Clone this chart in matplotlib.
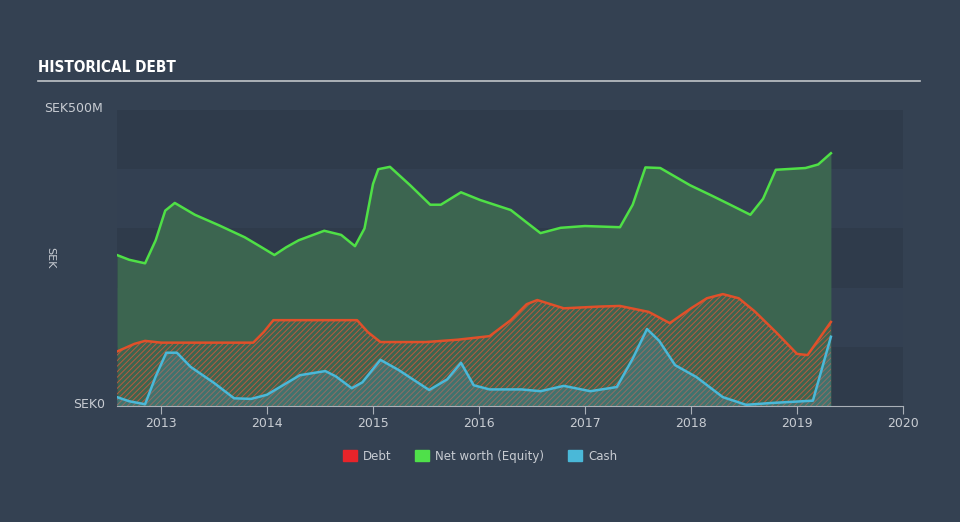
import numpy as np
import matplotlib
matplotlib.use("Agg")
import matplotlib.pyplot as plt
from matplotlib.patches import Patch
from matplotlib.lines import Line2D

# values (SEK millions)
nw_x = [2012.585, 2012.7, 2012.85, 2012.95, 2013.04, 2013.13, 2013.32, 2013.55, 2013.79,
        2013.95, 2014.07, 2014.18, 2014.3, 2014.54, 2014.7, 2014.83, 2014.92, 2015.0,
        2015.05, 2015.16, 2015.35, 2015.54, 2015.64, 2015.83, 2016.01, 2016.3, 2016.45,
        2016.58, 2016.77, 2017.0, 2017.33, 2017.45, 2017.57, 2017.71, 2017.99, 2018.2,
        2018.37, 2018.56, 2018.68, 2018.8, 2019.08, 2019.2, 2019.32]
nw_y = [255, 247, 241, 280, 330, 343, 323, 305, 285,
        268, 255, 268, 280, 296, 289, 270, 300, 375,
        400, 404, 373, 340, 340, 361, 348, 331, 310,
        292, 301, 304, 302, 340, 403, 402, 373, 355,
        340, 323, 350, 399, 402, 408, 427]

debt_x = [2012.585, 2012.75, 2012.85, 2013.0, 2013.5, 2013.87, 2013.97, 2014.06, 2014.5,
          2014.85, 2014.95, 2015.07, 2015.5, 2015.8, 2016.1, 2016.3, 2016.45, 2016.55,
          2016.8, 2017.14, 2017.33, 2017.6, 2017.8, 2018.0, 2018.15, 2018.3, 2018.45,
          2018.6, 2018.8, 2019.0, 2019.1, 2019.32]
debt_y = [92, 105, 110, 107, 107, 107, 125, 145, 145,
          145, 125, 108, 108, 112, 118, 145, 172, 179,
          165, 168, 169, 159, 140, 165, 182, 189, 182,
          160, 125, 88, 86, 142]

cash_x = [2012.585, 2012.7, 2012.85, 2012.95, 2013.05, 2013.15, 2013.28, 2013.5, 2013.69,
          2013.85, 2014.0, 2014.15, 2014.31, 2014.55, 2014.65, 2014.8, 2014.9, 2015.07,
          2015.24, 2015.53, 2015.7, 2015.83, 2015.95, 2016.1, 2016.4, 2016.58, 2016.8,
          2017.05, 2017.3, 2017.45, 2017.585, 2017.7, 2017.85, 2018.05, 2018.3, 2018.52,
          2018.75, 2018.95, 2019.15, 2019.32]
cash_y = [15, 8, 3, 50, 90, 90, 66, 39, 13,
          12, 19, 35, 52, 59, 50, 30, 40, 78,
          61, 27, 45, 73, 35, 28, 28, 25, 34,
          25, 32, 80, 130, 110, 69, 49, 15, 2,
          5, 7, 9, 117]

years = [2013, 2014, 2015, 2016, 2017, 2018, 2019, 2020]

bg = "#344152"
txt = "#c8ccd2"
plt.rcParams["hatch.linewidth"] = 0.7

fig = plt.figure(figsize=(9.6, 5.22), dpi=100, facecolor=bg)
ax = fig.add_axes([117 / 960, 1 - 406 / 522, 786 / 960, 296 / 522])
ax.set_facecolor(bg)

# background bands, 0-100 at the bottom
for i, c in enumerate(["#2f3b4b", "#334052", "#2f3b4b", "#334052", "#2f3b4b"]):
    ax.axhspan(i * 100, (i + 1) * 100, color=c, lw=0, zorder=0)

ax.fill_between(nw_x, 0, nw_y, color="#3c6550", lw=0, zorder=1)
ax.plot(nw_x, nw_y, color="#4fe046", lw=1.8, zorder=5, solid_joinstyle="round")

ax.fill_between(debt_x, 0, debt_y, facecolor="none", edgecolor="#b85a3e", hatch="//////", lw=0, zorder=2)
ax.plot(debt_x, debt_y, color="#e0502a", lw=1.8, zorder=5, solid_joinstyle="round")

ax.fill_between(cash_x, 0, cash_y, facecolor="#4a8fa8", alpha=0.35, edgecolor="none", lw=0, zorder=3)
ax.plot(cash_x, cash_y, color="#4ab8d8", lw=1.8, zorder=6, solid_joinstyle="round")

ax.set_xlim(2012.585, 2020)
ax.set_ylim(0, 500)
for s in ["top", "right", "left"]:
    ax.spines[s].set_visible(False)
ax.spines["bottom"].set_color("#aab0b8")
ax.set_yticks([])
ax.set_xticks(years)
ax.set_xticklabels([str(y) for y in years], color=txt, fontsize=9)
ax.tick_params(axis="x", colors="#aab0b8", length=6, labelcolor=txt, pad=2)

# title and rule
fig.text(38 / 960, 1 - 68 / 522, "HISTORICAL DEBT", color="white", fontsize=11,
         fontweight="bold", family="DejaVu Sans", fontstretch="condensed", va="center")
fig.add_artist(Line2D([38 / 960, 920 / 960], [1 - 81 / 522] * 2, color="#c0c4c8", lw=1.2))

fig.text(103 / 960, 1 - 108 / 522, "SEK500M", color=txt, fontsize=9, ha="right", va="center")
fig.text(105 / 960, 1 - 404 / 522, "SEK0", color=txt, fontsize=9, ha="right", va="center")
fig.text(50 / 960, 1 - 258 / 522, "SEK", color=txt, fontsize=8, rotation=270, ha="center", va="center")

handles = [Patch(color="#e8242a", label="Debt"),
           Patch(color="#4fe04a", label="Net worth (Equity)"),
           Patch(color="#4ab8d8", label="Cash")]
fig.legend(handles=handles, loc="center", bbox_to_anchor=(0.5, 1 - 456 / 522), ncol=3,
           frameon=False, fontsize=8.5, labelcolor=txt, handlelength=1.2, handleheight=1.0,
           columnspacing=2.0, handletextpad=0.5)

fig.savefig("out.png", dpi=100, facecolor=bg)
